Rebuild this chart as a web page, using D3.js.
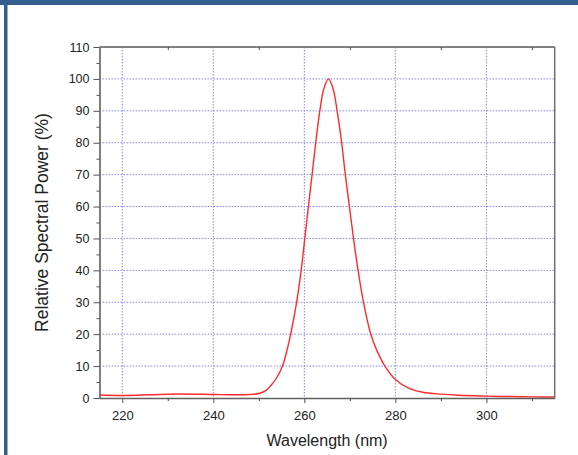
<!DOCTYPE html>
<html>
<head>
<meta charset="utf-8">
<script src="https://cdn.jsdelivr.net/npm/d3@7"></script>
<style>
  body { margin: 0; background: #fff; }
  svg { display: block; font-family: "Liberation Sans", Arial, sans-serif; }
</style>
</head>
<body>
<svg id="chart" width="578" height="455"></svg>
<script>
// spectrum: wavelength (nm) and relative power (%)
var wavelength = [215, 220, 226, 232, 240, 245, 248, 250, 251.5, 252.7, 254, 255.2, 256.2, 257,
  258.3, 259.3, 260.1, 260.9, 261.7, 262.5, 263.4, 264.3, 265.3, 266.3, 267.2, 268.2, 269, 269.9,
  270.8, 271.8, 273, 274.6, 275.9, 277.7, 280, 283, 286, 290, 294, 300, 305, 310, 315];
var power = [0.95, 0.8, 1.0, 1.25, 1.1, 1.0, 1.1, 1.4, 2.3, 4, 6.5, 10, 15, 20,
  30, 40, 50, 60, 70, 80, 90, 97, 100, 97, 90, 80, 70, 60,
  50, 40, 30, 20, 15, 10, 5.8, 3, 1.8, 1.2, 0.85, 0.6, 0.45, 0.35, 0.3];
var xTicks = [220, 240, 260, 280, 300];
var xMinor = [230, 250, 270, 290, 310];
var yTicks = [0, 10, 20, 30, 40, 50, 60, 70, 80, 90, 100, 110];
var yMinor = [5, 15, 25, 35, 45, 55, 65, 75, 85, 95, 105];

(function() {
  var svg = d3.select("#chart");

  // page frame (blue header bar and left edge)
  svg.append("rect").attr("x", 0).attr("y", 0).attr("width", 578).attr("height", 5).attr("fill", "#345f8f");
  svg.append("rect").attr("x", 4).attr("y", 0).attr("width", 3.5).attr("height", 455).attr("fill", "#345f8f");

  var pLeft = 99.5, pRight = 554.7, pTop = 47, pBottom = 398;
  var x = d3.scaleLinear().domain([215, 315]).range([pLeft, pRight]);
  var y = d3.scaleLinear().domain([0, 110]).range([pBottom, pTop]);

  // grid
  var grid = svg.append("g").attr("stroke", "#6060ff").attr("stroke-width", 1)
    .attr("stroke-dasharray", "1.5,1.5").attr("opacity", 0.75);
  grid.selectAll(".gx").data(xTicks).enter().append("line")
    .attr("x1", function(d) { return x(d); }).attr("x2", function(d) { return x(d); })
    .attr("y1", pTop).attr("y2", pBottom);
  grid.selectAll(".gy").data(yTicks.filter(function(d) { return d > 0 && d < 110; })).enter().append("line")
    .attr("x1", pLeft).attr("x2", pRight)
    .attr("y1", function(d) { return y(d); }).attr("y2", function(d) { return y(d); });

  // curve
  var line = d3.line()
    .x(function(d) { return x(d[0]); })
    .y(function(d) { return y(d[1]); })
    .curve(d3.curveCatmullRom.alpha(0.5));
  svg.append("path")
    .datum(d3.zip(wavelength, power))
    .attr("d", line)
    .attr("fill", "none").attr("stroke", "#ff2a2a").attr("stroke-width", 1.4);

  // frame lines
  svg.append("line").attr("x1", pLeft).attr("x2", pRight).attr("y1", pTop).attr("y2", pTop)
    .attr("stroke", "#808080").attr("stroke-width", 2);
  svg.append("line").attr("x1", pRight).attr("x2", pRight).attr("y1", pTop).attr("y2", pBottom)
    .attr("stroke", "#707070").attr("stroke-width", 1.5);

  // axes
  var xAxis = svg.append("g").attr("transform", "translate(0," + pBottom + ")")
    .call(d3.axisBottom(x).tickValues(xTicks).tickSize(5).tickSizeOuter(0));
  svg.append("g").attr("transform", "translate(0," + pBottom + ")")
    .call(d3.axisBottom(x).tickValues(xMinor).tickSize(3).tickFormat(""))
    .select(".domain").remove();
  svg.append("g").attr("transform", "translate(0," + pTop + ")")
    .call(d3.axisBottom(x).tickValues(xMinor).tickSize(3).tickFormat(""))
    .select(".domain").remove();
  var yAxis = svg.append("g").attr("transform", "translate(" + pLeft + ",0)")
    .call(d3.axisLeft(y).tickValues(yTicks).tickSize(6).tickSizeOuter(0).tickPadding(4));
  svg.append("g").attr("transform", "translate(" + pLeft + ",0)")
    .call(d3.axisLeft(y).tickValues(yMinor).tickSize(3).tickFormat(""))
    .select(".domain").remove();

  svg.selectAll(".domain").attr("stroke", "#606060").attr("stroke-width", 1.6);
  svg.selectAll(".tick line").attr("stroke", "#505050");
  xAxis.selectAll("text").attr("font-size", 13).attr("fill", "#222").attr("dy", "1.05em")
    .style("font-family", "'Liberation Sans', Arial, sans-serif");
  yAxis.selectAll("text").attr("font-size", 12.5).attr("fill", "#222")
    .style("font-family", "'Liberation Sans', Arial, sans-serif");

  // titles
  svg.append("text").attr("x", (pLeft + pRight) / 2).attr("y", 446)
    .attr("text-anchor", "middle").attr("font-size", 16).attr("fill", "#222")
    .text("Wavelength (nm)");
  svg.append("text").attr("transform", "translate(48," + ((pTop + pBottom) / 2) + ") rotate(-90)")
    .attr("text-anchor", "middle").attr("font-size", 17.5).attr("fill", "#222")
    .text("Relative Spectral Power (%)");
})();
</script>
</body>
</html>
